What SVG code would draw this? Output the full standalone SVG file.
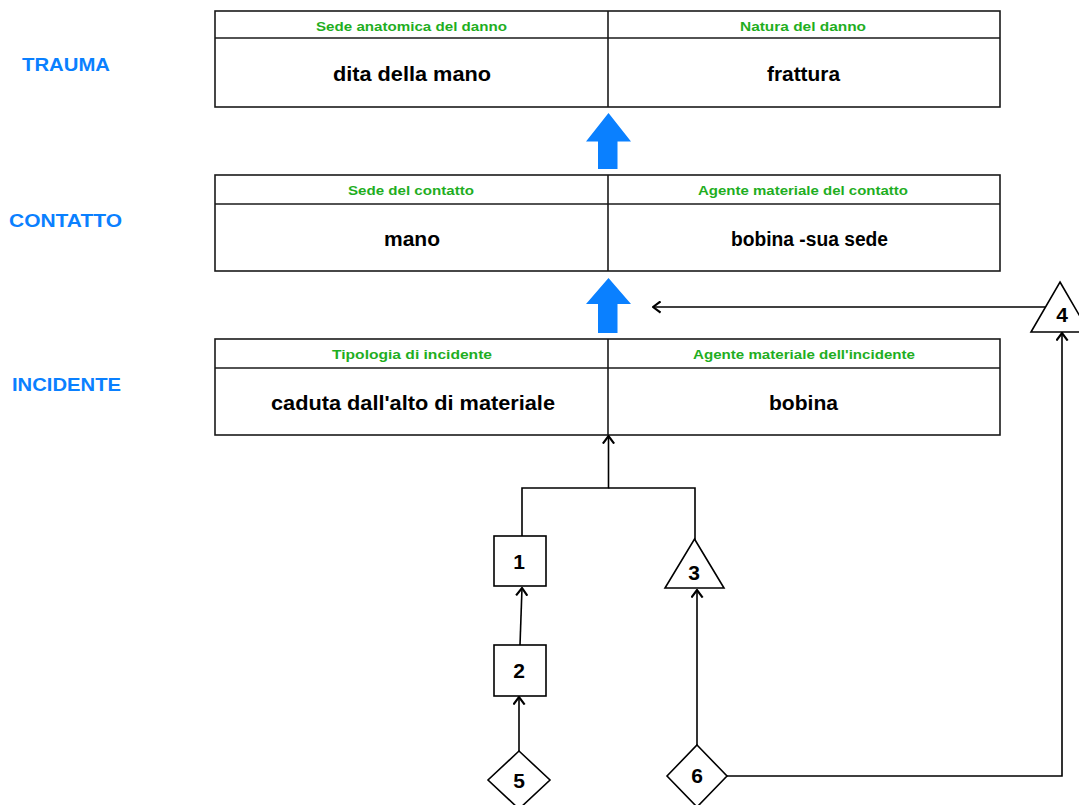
<svg xmlns="http://www.w3.org/2000/svg" width="1079" height="805" viewBox="0 0 1079 805">
<defs>
<style>
.tbl{fill:#fff;stroke:#1a1a1a;stroke-width:1.6}
.div{stroke:#1a1a1a;stroke-width:1.6}
.hdr{font-family:"Liberation Sans",Arial,sans-serif;font-weight:bold;font-size:12.5px;fill:#1fae1f;text-anchor:middle}
.body{font-family:"Liberation Sans",Arial,sans-serif;font-weight:bold;font-size:20px;fill:#000;text-anchor:middle}
.lvl{font-family:"Liberation Sans",Arial,sans-serif;font-weight:bold;font-size:17.5px;fill:#0a80ff;text-anchor:middle}
.num{font-family:"Liberation Sans",Arial,sans-serif;font-weight:bold;font-size:21px;fill:#000;text-anchor:middle}
.shape{fill:#fff;stroke:#000;stroke-width:1.6}
.con{fill:none;stroke:#000;stroke-width:1.6}
.big{fill:#0a80ff}
</style>
<marker id="ah" viewBox="0 0 8 12" refX="7.5" refY="6" markerWidth="9" markerHeight="13" markerUnits="userSpaceOnUse" orient="auto">
<path d="M0.5,0.8 L7.5,6 L0.5,11.2" fill="none" stroke="#000" stroke-width="2"/>
</marker>
</defs>
<rect width="1079" height="805" fill="#fff"/>

<g id="label-trauma"><text class="lvl" x="66" y="71" textLength="88" lengthAdjust="spacingAndGlyphs">TRAUMA</text></g>
<g id="label-contatto"><text class="lvl" x="65.5" y="227" textLength="113" lengthAdjust="spacingAndGlyphs">CONTATTO</text></g>
<g id="label-incidente"><text class="lvl" x="66.5" y="391" textLength="109" lengthAdjust="spacingAndGlyphs">INCIDENTE</text></g>

<g id="table-trauma">
<rect class="tbl" x="215" y="11" width="785" height="96"/>
<line class="div" x1="215" y1="38" x2="1000" y2="38"/>
<line class="div" x1="608" y1="11" x2="608" y2="107"/>
<text class="hdr" x="411.5" y="31" textLength="191" lengthAdjust="spacingAndGlyphs">Sede anatomica del danno</text>
<text class="hdr" x="803" y="31" textLength="126" lengthAdjust="spacingAndGlyphs">Natura del danno</text>
<text class="body" x="412" y="81" textLength="158" lengthAdjust="spacingAndGlyphs">dita della mano</text>
<text class="body" x="803.5" y="81" textLength="73" lengthAdjust="spacingAndGlyphs">frattura</text>
</g>

<g id="table-contatto">
<rect class="tbl" x="215" y="175" width="785" height="96"/>
<line class="div" x1="215" y1="204" x2="1000" y2="204"/>
<line class="div" x1="608" y1="175" x2="608" y2="271"/>
<text class="hdr" x="411" y="195" textLength="126" lengthAdjust="spacingAndGlyphs">Sede del contatto</text>
<text class="hdr" x="803" y="195" textLength="210" lengthAdjust="spacingAndGlyphs">Agente materiale del contatto</text>
<text class="body" x="412" y="246" textLength="56" lengthAdjust="spacingAndGlyphs">mano</text>
<text class="body" x="809.5" y="246" textLength="157" lengthAdjust="spacingAndGlyphs">bobina -sua sede</text>
</g>

<g id="table-incidente">
<rect class="tbl" x="215" y="339" width="785" height="96"/>
<line class="div" x1="215" y1="368" x2="1000" y2="368"/>
<line class="div" x1="608" y1="339" x2="608" y2="435"/>
<text class="hdr" x="412" y="359" textLength="160" lengthAdjust="spacingAndGlyphs">Tipologia di incidente</text>
<text class="hdr" x="804" y="359" textLength="222" lengthAdjust="spacingAndGlyphs">Agente materiale dell'incidente</text>
<text class="body" x="413" y="410" textLength="284" lengthAdjust="spacingAndGlyphs">caduta dall'alto di materiale</text>
<text class="body" x="803.5" y="410" textLength="69" lengthAdjust="spacingAndGlyphs">bobina</text>
</g>

<g id="big-arrow-1"><polygon class="big" points="608.5,113 631,141.5 617.5,141.5 617.5,169 598,169 598,141.5 586,141.5"/></g>
<g id="big-arrow-2"><polygon class="big" points="608.5,278 631,304 617.5,304 617.5,333 598,333 598,304 586,304"/></g>

<g id="connectors">
<path class="con" d="M522,536 V488 H608.5 V436" marker-end="url(#ah)"/>
<path class="con" d="M695,540 V488 H608.5"/>
<path class="con" d="M520,645 L522,588" marker-end="url(#ah)"/>
<path class="con" d="M519,751 V697" marker-end="url(#ah)"/>
<path class="con" d="M697,745 V590" marker-end="url(#ah)"/>
<path class="con" d="M727,776 H1062 V333" marker-end="url(#ah)"/>
<path class="con" d="M1045,307 H653" marker-end="url(#ah)"/>
</g>

<g id="node-1"><rect class="shape" x="494" y="536" width="52" height="50"/><text class="num" x="519" y="569">1</text></g>
<g id="node-2"><rect class="shape" x="494" y="645" width="52" height="51"/><text class="num" x="519" y="678">2</text></g>
<g id="node-3"><polygon class="shape" points="694.5,539 724,588 665,588"/><text class="num" x="694" y="580">3</text></g>
<g id="node-4"><polygon class="shape" points="1060,282 1089,332 1031,332"/><text class="num" x="1062" y="322">4</text></g>
<g id="node-5"><polygon class="shape" points="519,751 550,780 519,809 488,780"/><text class="num" x="519" y="788">5</text></g>
<g id="node-6"><polygon class="shape" points="697,745 727,776 697,807 667,776"/><text class="num" x="697" y="783">6</text></g>
</svg>
